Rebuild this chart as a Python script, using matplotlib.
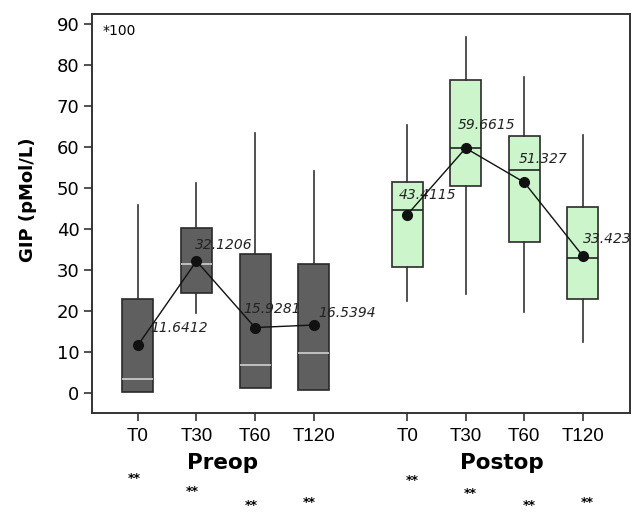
import matplotlib
matplotlib.use('Agg')
import matplotlib.pyplot as plt

# data (values in units of *100)
times = ["T0", "T30", "T60", "T120"]
groups = ["Preop", "Postop"]

pre_whislo = [0.3, 19.4, 1.1, 0.8]
pre_q1 = [0.3, 24.4, 1.1, 0.8]
pre_med = [3.5, 31.4, 6.9, 9.6]
pre_q3 = [22.8, 40.3, 33.8, 31.3]
pre_whishi = [45.8, 51.2, 63.3, 54.1]
pre_mean = [11.6412, 32.1206, 15.9281, 16.5394]

post_whislo = [22.4, 24.1, 19.8, 12.4]
post_q1 = [30.7, 50.5, 36.8, 22.9]
post_med = [44.7, 59.8, 54.3, 32.9]
post_q3 = [51.5, 76.3, 62.7, 45.4]
post_whishi = [65.3, 86.8, 77.1, 62.9]
post_mean = [43.4115, 59.6615, 51.327, 33.423]

mean_labels_pre = ["11.6412", "32.1206", "15.9281", "16.5394"]
mean_labels_post = ["43.4115", "59.6615", "51.327", "33.423"]

pre_pos = [1, 2, 3, 4]
post_pos = [5.6, 6.6, 7.6, 8.6]

fig = plt.figure(figsize=(6.41, 5.13), dpi=100)
ax = fig.add_axes([0.1435, 0.195, 0.8395, 0.778])


def make_stats(lo, q1, med, q3, hi, mean):
    out = []
    for i in range(len(lo)):
        out.append({"whislo": lo[i], "q1": q1[i], "med": med[i], "q3": q3[i],
                    "whishi": hi[i], "mean": mean[i], "fliers": []})
    return out


pre_stats = make_stats(pre_whislo, pre_q1, pre_med, pre_q3, pre_whishi, pre_mean)
post_stats = make_stats(post_whislo, post_q1, post_med, post_q3, post_whishi, post_mean)

# preop boxes (dark grey, light median)
ax.bxp(pre_stats, positions=pre_pos, widths=0.53, patch_artist=True,
       showcaps=False, showfliers=False, manage_ticks=False,
       boxprops=dict(facecolor="#5f5f5f", edgecolor="#2a2a2a", linewidth=1.2),
       medianprops=dict(color="#d0d0d0", linewidth=1.2),
       whiskerprops=dict(color="#333333", linewidth=1.2))

# postop boxes (light green)
ax.bxp(post_stats, positions=post_pos, widths=0.53, patch_artist=True,
       showcaps=False, showfliers=False, manage_ticks=False,
       boxprops=dict(facecolor="#ccf5cc", edgecolor="#2a2a2a", linewidth=1.2),
       medianprops=dict(color="#222222", linewidth=1.2),
       whiskerprops=dict(color="#333333", linewidth=1.2))

# mean lines
ax.plot(pre_pos, pre_mean, color="#111111", linewidth=1.0, marker="o",
        markersize=7, zorder=5)
ax.plot(post_pos, post_mean, color="#111111", linewidth=1.0, marker="o",
        markersize=7, zorder=5)

# label offsets in pixels (dx, dy), picked by eye
pre_off = [(12, 17), (-2, 16), (-12, 19), (5, 12)]
post_off = [(-8, 20), (-8, 23), (-5, 23), (0, 17)]
for x, y, lab, (dx, dy) in zip(pre_pos, pre_mean, mean_labels_pre, pre_off):
    ax.annotate(lab, (x, y), xytext=(dx * 0.72, dy * 0.72), textcoords="offset points",
                ha="left", va="center", fontsize=10, style="italic", color="#222222")
for x, y, lab, (dx, dy) in zip(post_pos, post_mean, mean_labels_post, post_off):
    ax.annotate(lab, (x, y), xytext=(dx * 0.72, dy * 0.72), textcoords="offset points",
                ha="left", va="center", fontsize=10, style="italic", color="#222222")

ax.set_xlim(0.214, 9.41)
ax.set_ylim(-4.9, 92.4)
ax.set_yticks(range(0, 91, 10))
ax.set_xticks(pre_pos + post_pos)
ax.set_xticklabels(times + times, fontfamily="Liberation Sans", fontsize=13.5)
ax.tick_params(axis="y", labelsize=13, length=6, width=1.2, pad=3, color="#333333")
ax.tick_params(axis="x", length=6, width=1.2, pad=5, color="#333333")
for sp in ax.spines.values():
    sp.set_linewidth(1.4)
    sp.set_color("#333333")

ax.set_ylabel("GIP (pMol/L)", fontsize=13, fontweight="bold")
ax.yaxis.set_label_coords(-0.102, 0.534)
ax.text(0.02, 0.975, "*100", transform=ax.transAxes, fontsize=10, va="top", ha="left")

# group names below tick labels
trans = ax.get_xaxis_transform()
ax.text(sum(pre_pos) / 4 - 0.05, -0.125, groups[0], transform=trans, ha="center",
        va="center", fontsize=15.5, fontweight="bold", clip_on=False)
ax.text(sum(post_pos) / 4 + 0.12, -0.125, groups[1], transform=trans, ha="center",
        va="center", fontsize=15.5, fontweight="bold", clip_on=False)

# significance stars, stepping down (last row nudged up so it stays on the canvas)
pre_star_y = [-0.163, -0.198, -0.231, -0.224]
post_star_y = [-0.170, -0.203, -0.233, -0.224]
for i in range(4):
    ax.text(pre_pos[i] - 0.07, pre_star_y[i], "**", transform=trans, ha="center",
            va="center", fontsize=9, fontweight="bold", clip_on=False)
    ax.text(post_pos[i] + 0.08, post_star_y[i], "**", transform=trans, ha="center",
            va="center", fontsize=9, fontweight="bold", clip_on=False)

fig.savefig("out.png", dpi=100)
